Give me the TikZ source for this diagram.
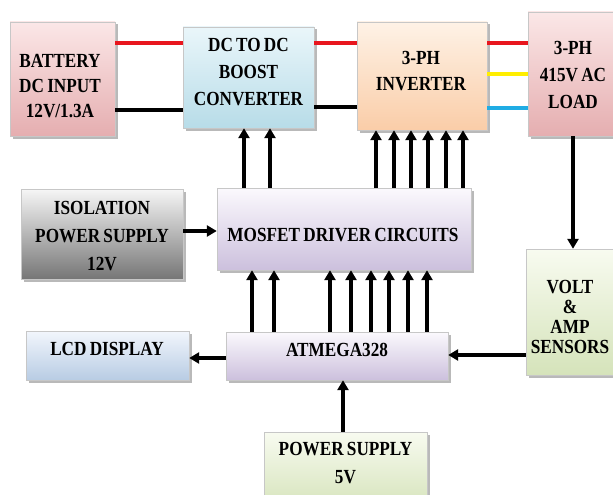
\documentclass[tikz,border=0pt]{standalone}
\usepackage{fontspec}
\setmainfont{Liberation Serif}[FakeStretch=0.86, WordSpace=0.75]
\usetikzlibrary{arrows.meta,shadows}

\definecolor{pinktop}{RGB}{251,231,231}
\definecolor{pinkbot}{RGB}{229,174,176}
\definecolor{bluetop}{RGB}{234,246,250}
\definecolor{bluebot}{RGB}{183,220,232}
\definecolor{peachtop}{RGB}{254,242,230}
\definecolor{peachbot}{RGB}{250,205,168}
\definecolor{greytop}{RGB}{246,246,246}
\definecolor{greybot}{RGB}{118,118,118}
\definecolor{lilactop}{RGB}{251,249,253}
\definecolor{lilacbot}{RGB}{204,192,221}
\definecolor{lcdtop}{RGB}{242,246,252}
\definecolor{lcdbot}{RGB}{184,204,228}
\definecolor{greentop}{RGB}{248,251,240}
\definecolor{greenbot}{RGB}{213,227,186}
\definecolor{wirered}{RGB}{232,22,30}
\definecolor{wireyellow}{RGB}{255,238,0}
\definecolor{wireblue}{RGB}{32,172,228}

\tikzset{
  block/.style={draw=black!22, line width=0.4pt, inner sep=0pt,
    drop shadow={shadow xshift=2.5pt, shadow yshift=-2.5pt, fill=black!50, opacity=0.55}},
  txt/.style={align=center, inner sep=0pt, font=\bfseries\fontsize{20}{26}\selectfont},
  arr/.style={line width=3.5pt, -{Triangle[length=10pt,width=11pt]}},
  wire/.style={line width=4pt},
}

\begin{document}
\begin{tikzpicture}[x=1pt, y=-1pt]
    \clip (0,0) rectangle (613,495);

    % Blocks
    \node[block, minimum width=105pt, minimum height=114pt, top color=pinktop, bottom color=pinkbot] (battery) at (62.5,79) {};
    \node[block, minimum width=131pt, minimum height=101pt, top color=bluetop, bottom color=bluebot] (dcdc) at (248.5,77.5) {};
    \node[block, minimum width=130pt, minimum height=108pt, top color=peachtop, bottom color=peachbot] (inverter) at (422,76) {};
    \node[block, minimum width=90pt, minimum height=124pt, top color=pinktop, bottom color=pinkbot] (load) at (573,74) {};
    \node[block, minimum width=162pt, minimum height=90pt, top color=greytop, bottom color=greybot] (isolation) at (102,234) {};
    \node[block, minimum width=254pt, minimum height=82pt, top color=lilactop, bottom color=lilacbot] (mosfet) at (344,229) {};
    \node[block, minimum width=90pt, minimum height=126pt, top color=greentop, bottom color=greenbot] (sensors) at (571,312) {};
    \node[block, minimum width=163pt, minimum height=49pt, top color=lcdtop, bottom color=lcdbot] (lcd) at (107.5,355.5) {};
    \node[block, minimum width=222pt, minimum height=48pt, top color=lilactop, bottom color=lilacbot] (atmega) at (337,356) {};
    \node[block, minimum width=163pt, minimum height=78pt, top color=greentop, bottom color=greenbot] (power) at (345.5,471) {};

    % Texts
    \node[txt, font=\bfseries\fontsize{20}{25}\selectfont] (batterytxt) at (60,86.5) {BATTERY\\DC INPUT\\12V/1.3A};
    \node[txt, font=\bfseries\fontsize{20}{27}\selectfont] (dcdctxt) at (248.5,72) {DC TO DC\\BOOST\\CONVERTER};
    \node[txt] (invertertxt) at (421,71) {3-PH\\INVERTER};
    \node[txt, font=\bfseries\fontsize{20}{27}\selectfont] (loadtxt) at (573,75) {3-PH\\415V AC\\LOAD};
    \node[txt, font=\bfseries\fontsize{20}{28}\selectfont] (isolationtxt) at (102,236) {ISOLATION\\POWER SUPPLY\\12V};
    \node[txt] (mosfettxt) at (343,235) {MOSFET DRIVER CIRCUITS};
    \node[txt, font=\bfseries\fontsize{20}{20}\selectfont] (sensorstxt) at (570,317) {VOLT\\\&\\AMP\\SENSORS};
    \node[txt] (lcdtxt) at (107,349) {LCD DISPLAY};
    \node[txt] (atmegatxt) at (337,350) {ATMEGA328};
    \node[txt, font=\bfseries\fontsize{20}{28}\selectfont] (powertxt) at (345.5,463) {POWER SUPPLY\\5V};

    % Wires
    \draw[wire, wirered] (battery.east |- 0,43) -- (dcdc.west |- 0,43);
    \draw[wire, black] (battery.east |- 0,110) -- (dcdc.west |- 0,110);
    \draw[wire, wirered] (dcdc.east |- 0,43) -- (inverter.west |- 0,43);
    \draw[wire, black] (dcdc.east |- 0,107) -- (inverter.west |- 0,107);
    \draw[wire, wirered] (inverter.east |- 0,43) -- (load.west |- 0,43);
    \draw[wire, wireyellow] (inverter.east |- 0,74) -- (load.west |- 0,74);
    \draw[wire, wireblue] (inverter.east |- 0,108) -- (load.west |- 0,108);

    % Arrows
    \draw[arr] (mosfet.north -| 244,0) -- (dcdc.south -| 244,0);
    \draw[arr] (mosfet.north -| 270,0) -- (dcdc.south -| 270,0);
    \draw[arr] (mosfet.north -| 376,0) -- (inverter.south -| 376,0);
    \draw[arr] (mosfet.north -| 394,0) -- (inverter.south -| 394,0);
    \draw[arr] (mosfet.north -| 411,0) -- (inverter.south -| 411,0);
    \draw[arr] (mosfet.north -| 428,0) -- (inverter.south -| 428,0);
    \draw[arr] (mosfet.north -| 446,0) -- (inverter.south -| 446,0);
    \draw[arr] (mosfet.north -| 463,0) -- (inverter.south -| 463,0);
    \draw[arr] (atmega.north -| 252,0) -- (mosfet.south -| 252,0);
    \draw[arr] (atmega.north -| 274,0) -- (mosfet.south -| 274,0);
    \draw[arr] (atmega.north -| 330,0) -- (mosfet.south -| 330,0);
    \draw[arr] (atmega.north -| 351,0) -- (mosfet.south -| 351,0);
    \draw[arr] (atmega.north -| 371,0) -- (mosfet.south -| 371,0);
    \draw[arr] (atmega.north -| 389,0) -- (mosfet.south -| 389,0);
    \draw[arr] (atmega.north -| 408,0) -- (mosfet.south -| 408,0);
    \draw[arr] (atmega.north -| 427,0) -- (mosfet.south -| 427,0);
    \draw[arr] (isolation.east |- 0,231) -- (mosfet.west |- 0,231);
    \draw[arr] (atmega.west |- 0,358) -- (lcd.east |- 0,358);
    \draw[arr] (sensors.west |- 0,355) -- (atmega.east |- 0,355);
    \draw[arr] (load.south) -- (load.south |- sensors.north);
    \draw[arr] (power.north -| 343,0) -- (atmega.south -| 343,0);
\end{tikzpicture}
\end{document}
